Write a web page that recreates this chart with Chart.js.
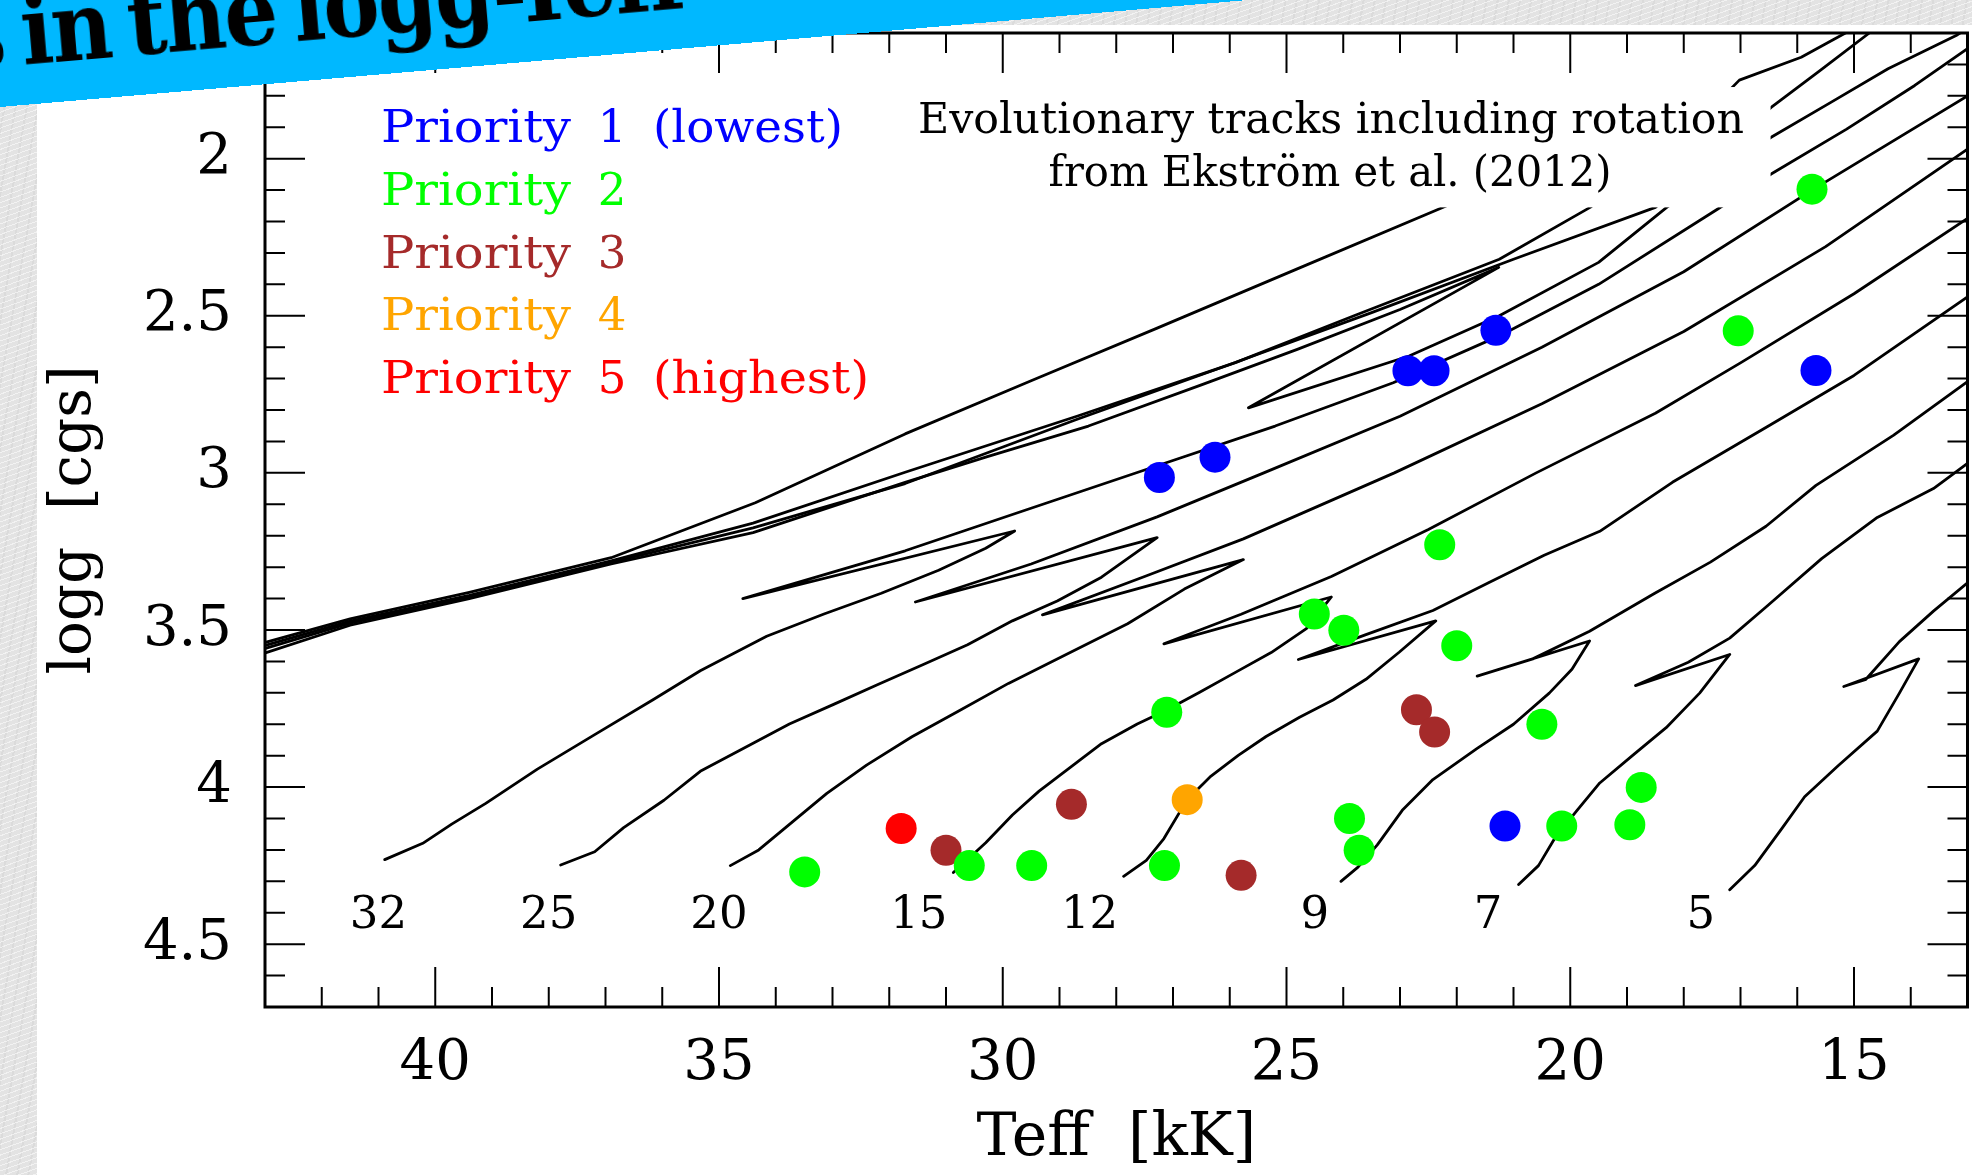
<!DOCTYPE html>
<html>
<head>
<meta charset="utf-8">
<title>Targets in the logg-Teff plane</title>
<script src="https://cdn.jsdelivr.net/npm/chart.js@4.4.1/dist/chart.umd.min.js"></script>
<style>
  html, body { margin: 0; padding: 0; }
  body {
    width: 1972px; height: 1175px; overflow: hidden; position: relative;
    background-color: #e3e3e3;
    background-image:
      repeating-linear-gradient(160deg, rgba(255,255,255,0.55) 0 1px, rgba(255,255,255,0) 1px 5px),
      repeating-linear-gradient(100deg, rgba(0,0,0,0.035) 0 2px, rgba(0,0,0,0) 2px 11px);
  }
  #panel { position: absolute; left: 37px; top: 25px; right: 0; bottom: 0; background: #fff; }
  /* a little wider than the window: the point overflow padding on the right falls outside */
  #chart { position: absolute; left: 0; top: 0; }
  #banner {
    position: absolute; left: 0; top: -193px; width: 1500px; height: 300px;
    background: #00b8ff; transform-origin: 0 100%; transform: rotate(-4.9deg);
  }
  #banner span {
    position: absolute; left: -36px; bottom: 25px;
    font: bold 96px "DejaVu Serif"; line-height: 1; letter-spacing: -2px; word-spacing: -12px;
    color: #000; white-space: nowrap;
    transform-origin: 0 100%; transform: scaleX(0.88);
  }
</style>
</head>
<body>
<div id="panel"></div>
<canvas id="chart" width="1983" height="1175"></canvas>
<div id="banner"><span>s in the logg-Teff</span></div>
<script>
"use strict";

const SERIF = '"DejaVu Serif", serif';

const xTickValues = [15, 20, 25, 30, 35, 40];
const yTickValues = [2, 2.5, 3, 3.5, 4, 4.5];

// targets, Teff in kK and logg in cgs
const prio1Teff = [27.24, 26.26, 22.86, 22.40, 21.31, 15.67, 21.15];
const prio1Logg = [3.015, 2.950, 2.675, 2.675, 2.546, 2.674, 4.124];
const prio2Teff = [15.74, 17.04, 22.30, 24.51, 23.99, 22.00, 27.11, 20.50, 18.75, 23.89, 20.15, 18.95, 23.72, 33.49, 30.59, 29.49, 27.15];
const prio2Logg = [2.097, 2.548, 3.229, 3.449, 3.501, 3.550, 3.762, 3.800, 4.001, 4.100, 4.124, 4.120, 4.201, 4.270, 4.250, 4.250, 4.250];
const prio3Teff = [22.71, 22.39, 28.79, 31.00, 25.80];
const prio3Logg = [3.754, 3.825, 4.055, 4.201, 4.281];
const prio4Teff = [26.75];
const prio4Logg = [4.040];
const prio5Teff = [31.79];
const prio5Logg = [4.132];

// evolutionary tracks as [Teff, logg]
const trackB1 = [[43.2,3.55],[41.5,3.465],[39.4,3.38],[36.9,3.27],[34.36,3.095],[31.72,2.876],[29.5,2.707],[27.29,2.54],[24.8,2.35],[22.28,2.158],[20.5,2.02]];
const trackB2 = [[43.2,3.56],[41.5,3.472],[39.4,3.39],[36.9,3.28],[34.4,3.16],[31.72,2.998],[28.68,2.819],[25.9,2.649],[23.81,2.5],[21.25,2.32],[19.65,2.155],[18.0,1.93],[17.02,1.75],[15.93,1.677],[15.36,1.621],[15.0,1.585]];
const trackB3 = [[43.2,3.57],[41.5,3.478],[39.4,3.395],[36.9,3.285],[34.4,3.175],[31.72,3.034],[28.7,2.83],[26.0,2.655],[23.5,2.49],[21.0,2.32],[18.5,2.155],[16.46,1.837],[15.6,1.72],[14.73,1.6],[14.6,1.58]];
const track40 = [[43.2,3.585],[41.5,3.485],[39.4,3.4],[36.9,3.29],[34.4,3.19],[31.72,3.03],[30.3,2.95],[28.49,2.851],[26.5,2.72],[24.81,2.607],[23.0,2.48],[21.26,2.346],[25.67,2.793],[22.84,2.628],[21.25,2.5],[19.5,2.33],[18.3,2.155],[17.3,2.03],[16.46,1.932],[15.4,1.82],[14.4,1.714],[13.2,1.608],[13.0,1.585]];
const track32 = [[40.89,4.231],[40.22,4.179],[39.71,4.118],[39.11,4.052],[38.2,3.943],[37.19,3.833],[36.17,3.723],[35.33,3.63],[34.16,3.52],[33.15,3.449],[32.14,3.383],[31.13,3.31],[30.3,3.24],[29.79,3.185],[34.58,3.4],[31.72,3.248],[29.79,3.13],[27.29,2.978],[25.2,2.851],[23.12,2.713],[21.25,2.564],[19.5,2.4],[17.4,2.16],[16.46,2.049],[15.13,1.906],[13.93,1.767],[13.0,1.65]];
const track25 = [[37.79,4.248],[37.19,4.206],[36.68,4.129],[35.97,4.042],[35.33,3.95],[34.54,3.874],[33.76,3.799],[32.97,3.736],[32.19,3.673],[31.4,3.61],[30.62,3.547],[29.83,3.471],[29.04,3.408],[28.26,3.332],[27.28,3.206],[31.54,3.411],[29.5,3.29],[27.28,3.14],[25.4,3.0],[23.0,2.82],[20.5,2.6],[18.0,2.36],[15.74,2.1],[13.0,1.8]];
const track20 = [[34.8,4.25],[34.3,4.2],[33.7,4.11],[33.1,4.02],[32.4,3.93],[31.6,3.84],[30.8,3.76],[29.9,3.67],[28.9,3.58],[27.8,3.48],[26.8,3.37],[25.76,3.276],[29.3,3.452],[27.5,3.33],[25.76,3.21],[23.1,3.0],[20.5,2.78],[18.0,2.55],[15.5,2.28],[13.0,1.97]];
const track15 = [[30.87,4.272],[30.3,4.177],[29.83,4.089],[29.36,4.013],[28.81,3.937],[28.26,3.862],[27.63,3.799],[27.11,3.755],[26.53,3.698],[25.9,3.635],[25.27,3.572],[24.65,3.496],[24.21,3.395],[27.16,3.544],[25.8,3.45],[24.21,3.33],[22.5,3.18],[20.6,3.0],[18.5,2.81],[17.0,2.65],[15.0,2.43],[13.0,2.19]];
const track12 = [[27.87,4.284],[27.47,4.233],[27.16,4.164],[26.75,4.04],[26.33,3.965],[25.85,3.899],[25.36,3.839],[24.77,3.778],[24.18,3.723],[23.6,3.657],[23.01,3.57],[22.37,3.471],[24.79,3.594],[23.6,3.515],[22.42,3.438],[21.44,3.35],[20.46,3.262],[19.48,3.186],[18.2,3.03],[16.5,2.85],[15.0,2.69],[13.0,2.44]];
const track9 = [[24.04,4.3],[23.74,4.255],[23.4,4.184],[22.96,4.074],[22.42,3.976],[21.64,3.877],[21.0,3.8],[20.37,3.701],[19.97,3.625],[19.66,3.535],[21.64,3.647],[20.66,3.592],[19.66,3.504],[18.51,3.383],[17.53,3.284],[16.55,3.17],[15.67,3.04],[14.3,2.88],[13.0,2.71]];
const track7 = [[20.91,4.31],[20.56,4.25],[20.27,4.162],[19.88,4.074],[19.48,3.987],[18.9,3.899],[18.31,3.811],[17.72,3.701],[17.19,3.578],[18.85,3.677],[17.92,3.603],[17.19,3.526],[16.55,3.427],[15.57,3.273],[14.59,3.142],[13.6,3.05],[13.0,2.97]];
const track5 = [[17.19,4.327],[16.75,4.25],[16.26,4.129],[15.87,4.031],[15.28,3.932],[14.59,3.822],[14.2,3.701],[13.86,3.592],[15.18,3.68],[14.79,3.657],[14.2,3.537],[13.6,3.44],[13.0,3.35]];

const massLabels = ['32', '25', '20', '15', '12', '9', '7', '5'];
const massLabelTeff = [41.0, 38.0, 35.0, 31.48, 28.47, 24.5, 21.45, 17.7];
const massLabelLogg = [4.41, 4.41, 4.41, 4.41, 4.41, 4.41, 4.41, 4.41];

const legendNums = ['1', '2', '3', '4', '5'];
const legendNotes = ['(lowest)', '', '', '', '(highest)'];
const legendColors = ['#0000ff', '#00ff00', '#a52a2a', '#ffa500', '#ff0000'];

const noteLines = ['Evolutionary tracks including rotation', 'from Ekström et al. (2012)'];

const trackList = [trackB1, trackB2, trackB3, track40, track32, track25, track20, track15, track12, track9, track7, track5];

function toPoints(teff, logg) {
	return teff.map((t, i) => ({ x: t, y: logg[i] }));
}

// draw text squeezed or stretched to a measured width
function drawFitted(ctx, text, px, base, width, align, font) {
	ctx.font = font;
	const w = ctx.measureText(text).width;
	ctx.save();
	ctx.translate(px, base);
	ctx.scale(width / w, 1);
	ctx.textAlign = align;
	ctx.fillText(text, 0, 0);
	ctx.restore();
}

const overlay = {
	id: 'overlay',
	afterDatasetsDraw(chart) {
		const { ctx, scales: { x, y } } = chart;
		ctx.save();

		// white card behind the note hides the tracks
		const left = x.getPixelForValue(31.9);
		const right = x.getPixelForValue(16.47);
		const top = y.getPixelForValue(1.772);
		const bottom = y.getPixelForValue(2.155);
		ctx.fillStyle = '#fff';
		ctx.fillRect(left, top, right - left, bottom - top);

		ctx.fillStyle = '#000';
		ctx.textBaseline = 'alphabetic';
		drawFitted(ctx, noteLines[0], 1331, 133, 826, 'center', `42px ${SERIF}`);
		drawFitted(ctx, noteLines[1], 1330, 186, 563, 'center', `42px ${SERIF}`);

		// legend
		legendNums.forEach((num, i) => {
			const base = 142 + i * 62.8;
			ctx.fillStyle = legendColors[i];
			drawFitted(ctx, 'Priority', 381, base, 190, 'left', `45px ${SERIF}`);
			ctx.font = `45px ${SERIF}`;
			ctx.textAlign = 'center';
			ctx.fillText(num, 612, base);
			if (legendNotes[i]) {
				const w = legendNotes[i] === '(lowest)' ? 190 : 216;
				drawFitted(ctx, legendNotes[i], 653, base, w, 'left', `45px ${SERIF}`);
			}
		});

		// initial masses under the ZAMS ends
		ctx.fillStyle = '#000';
		ctx.font = `45px ${SERIF}`;
		ctx.textAlign = 'center';
		ctx.textBaseline = 'middle';
		massLabels.forEach((m, i) => {
			ctx.fillText(m, x.getPixelForValue(massLabelTeff[i]), y.getPixelForValue(massLabelLogg[i]));
		});
		ctx.restore();
	},
	afterDraw(chart) {
		const { ctx, chartArea: a, scales: { x, y } } = chart;
		ctx.save();
		ctx.strokeStyle = '#000';
		ctx.lineWidth = 2;
		ctx.beginPath();
		for (let t = 14; t <= 42; t++) {
			const px = x.getPixelForValue(t);
			const len = t % 5 === 0 ? 40 : 20;
			ctx.moveTo(px, a.bottom);
			ctx.lineTo(px, a.bottom - len);
			ctx.moveTo(px, a.top);
			ctx.lineTo(px, a.top + len);
		}
		for (let k = 17; k <= 46; k++) {
			const py = y.getPixelForValue(k / 10);
			const len = k % 5 === 0 ? 40 : 20;
			ctx.moveTo(a.left, py);
			ctx.lineTo(a.left + len, py);
			ctx.moveTo(a.right, py);
			ctx.lineTo(a.right - len, py);
		}
		ctx.stroke();
		ctx.lineWidth = 3;
		ctx.strokeRect(a.left, a.top, a.right - a.left, a.bottom - a.top);
		ctx.restore();
	}
};

const datasets = [];

trackList.forEach(track => {
	datasets.push({
		data: track.map(([t, g]) => ({ x: t, y: g })),
		showLine: true,
		borderColor: '#000',
		borderWidth: 2.8,
		borderJoinStyle: 'round',
		borderCapStyle: 'round',
		pointRadius: 0,
		tension: 0,
		order: 2
	});
});

[
	[prio1Teff, prio1Logg, legendColors[0]],
	[prio2Teff, prio2Logg, legendColors[1]],
	[prio3Teff, prio3Logg, legendColors[2]],
	[prio4Teff, prio4Logg, legendColors[3]],
	[prio5Teff, prio5Logg, legendColors[4]]
].forEach(([teff, logg, color]) => {
	datasets.push({
		data: toPoints(teff, logg),
		pointRadius: 15.5,
		pointBackgroundColor: color,
		pointBorderWidth: 0,
		borderColor: color,
		order: 1
	});
});

new Chart(document.getElementById('chart').getContext('2d'), {
	type: 'scatter',
	data: { datasets },
	plugins: [overlay],
	options: {
		responsive: false,
		animation: false,
		events: [],
		devicePixelRatio: 1,
		layout: { padding: { top: 33, right: 0, bottom: 0, left: 0 } },
		plugins: {
			legend: { display: false },
			tooltip: { enabled: false }
		},
		scales: {
			x: {
				type: 'linear',
				position: 'bottom',
				reverse: true,
				min: 13,
				max: 43,
				afterBuildTicks: s => { s.ticks = xTickValues.map(v => ({ value: v })); },
				afterFit: s => {
					s.height = 168;
					s.paddingLeft = 0;
					s.paddingRight = 0;
				},
				grid: { display: false, drawTicks: false },
				border: { display: false },
				ticks: { color: '#000', font: { family: SERIF, size: 56 }, padding: 24, maxRotation: 0, autoSkip: false },
				title: { display: true, text: 'Teff  [kK]', color: '#000', font: { family: SERIF, size: 60 }, padding: { top: 0, bottom: 0 } }
			},
			y: {
				type: 'linear',
				position: 'left',
				reverse: true,
				min: 1.6,
				max: 4.7,
				afterBuildTicks: s => { s.ticks = yTickValues.map(v => ({ value: v })); },
				afterFit: s => {
					s.width = 265;
					s.paddingTop = 0;
					s.paddingBottom = 0;
				},
				grid: { display: false, drawTicks: false },
				border: { display: false },
				ticks: {
					color: '#000',
					font: { family: SERIF, size: 56 },
					padding: 33,
					autoSkip: false,
					callback: v => String(v)
				},
				title: { display: true, text: 'logg  [cgs]', color: '#000', font: { family: SERIF, size: 58 }, padding: { top: 40, bottom: 0 } }
			}
		}
	}
});
</script>
</body>
</html>
